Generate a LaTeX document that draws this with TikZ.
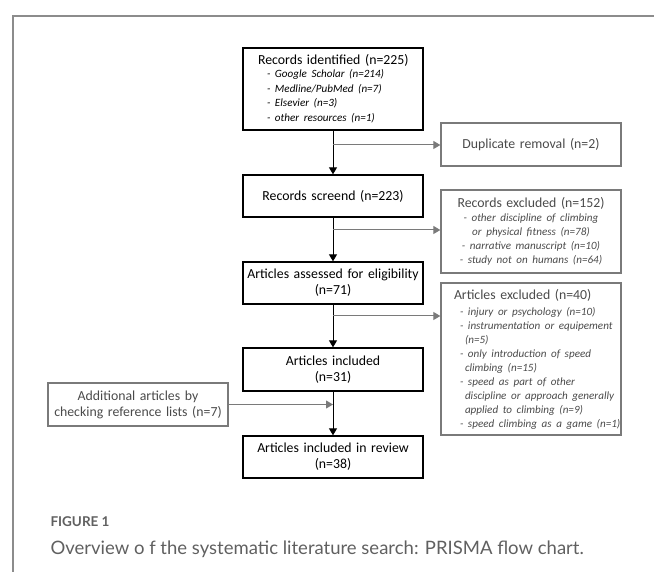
\documentclass[tikz,border=0pt]{standalone}
\usepackage{fontspec}
\setmainfont{Carlito}
\newfontfamily\captfont{Lato}
\usepackage{tikz}
\usetikzlibrary{arrows.meta}
\definecolor{sidegray}{HTML}{7A7A7A}
\definecolor{sidetext}{HTML}{4A4A4A}
\definecolor{captgray}{HTML}{606060}
\definecolor{framegray}{HTML}{8C8C8C}
\tikzset{
	mainbox/.style={draw=black, line width=1.3pt, minimum height=42pt, text width=176pt, inner xsep=2pt, align=center, font=\fontsize{13.8}{16}\selectfont},
	sidebox/.style={draw=sidegray, line width=1.3pt, text=sidetext, minimum height=43pt, text width=176pt, inner xsep=2pt, align=center, font=\fontsize{13.8}{14}\selectfont},
	mainarrow/.style={-{Triangle[length=7pt,width=8pt]}, line width=1pt},
	sidearrow/.style={-{Triangle[length=7pt,width=8pt]}, line width=1pt, draw=sidegray, color=sidegray},
}
\newcommand{\bul}[1]{{\itshape\fontsize{11.1}{14}\selectfont\mbox{#1}}}
\begin{document}
\begin{tikzpicture}[x=1pt, y=-1pt]
		%%%%% START %%%%%
		\useasboundingbox (0, 0) rectangle (654, 572);
		\draw[framegray, line width=1.2pt] (654, 16) -- (13, 16) -- (13, 572);
		
		% main column
		\node[mainbox, minimum height=82pt, align=left, font=\fontsize{13.8}{14.7}\selectfont] (rid) at (333, 89) {\hspace*{13pt}Records identified (n=225)\\[-2pt]
			\hspace*{22pt}\bul{- Google Scholar (n=214)}\\
			\hspace*{22pt}\bul{- Medline/PubMed (n=7)}\\
			\hspace*{22pt}\bul{- Elsevier (n=3)}\\
			\hspace*{22pt}\bul{- other resources (n=1)}};
		\node[mainbox] (rscr) at (333, 196) {Records screend (n=223)};
		\node[mainbox] (aelig) at (333, 283) {Articles assessed for eligibility\\(n=71)};
		\node[mainbox, minimum height=43pt] (ainc) at (333, 369.5) {Articles included\\(n=31)};
		\node[mainbox] (arev) at (333, 457) {Articles included in review\\(n=38)};
		
		% side boxes
		\node[sidebox] (dup) at (531, 144.5) {Duplicate removal (n=2)};
		\node[sidebox, minimum height=83pt] (rexc) at (531, 231.5) {Records excluded (n=152)\\
			\bul{- other discipline of climbing}\\
			\bul{or physical fitness (n=78)}\\
			\bul{- narrative manuscript (n=10)}\\
			\bul{- study not on humans (n=64)}};
		\node[sidebox, minimum height=152pt, align=left] (aexc) at (531, 359) {\hspace*{11pt}Articles excluded (n=40)\\[2pt]
			\hspace*{17pt}\bul{- injury or psychology (n=10)}\\
			\hspace*{17pt}\bul{- instrumentation or equipement}\\
			\hspace*{22pt}\bul{(n=5)}\\
			\hspace*{17pt}\bul{- only introduction of speed}\\
			\hspace*{22pt}\bul{climbing (n=15)}\\
			\hspace*{17pt}\bul{- speed as part of other}\\
			\hspace*{22pt}\bul{discipline or approach generally}\\
			\hspace*{22pt}\bul{applied to climbing (n=9)}\\
			\hspace*{17pt}\bul{- speed climbing as a game (n=1)}};
		\node[sidebox, font=\fontsize{13.8}{16}\selectfont] (addl) at (138, 404.5) {Additional articles by\\checking reference lists (n=7)};
		
		% connectors
		\draw[mainarrow] (rid) -- (rscr);
		\draw[mainarrow] (rscr) -- (aelig);
		\draw[mainarrow] (aelig) -- (ainc);
		\draw[mainarrow] (ainc) -- (arev);
		
		\coordinate (j1) at (333, 145);
		\coordinate (j2) at (333, 230);
		\coordinate (j3) at (333, 316);
		\draw[sidearrow] (j1) -- (j1 -| dup.west);
		\draw[sidearrow] (j2) -- (j2 -| rexc.west);
		\draw[sidearrow] (j3) -- (j3 -| aexc.west);
		\draw[sidearrow] (addl.east) -- (addl.east -| arev.north);
		
		% caption
		\node[anchor=base west, text=captgray, font=\captfont\bfseries\fontsize{13.5}{15}\selectfont] (figlbl) at (47, 526) {FIGURE 1};
		\node[anchor=base west, text=captgray, font=\captfont\fontsize{18.5}{22}\selectfont] (capt) at (47, 554) {Overview o f the systematic literature search: PRISMA flow chart.};
		%%%%% END %%%%%
\end{tikzpicture}
\end{document}
